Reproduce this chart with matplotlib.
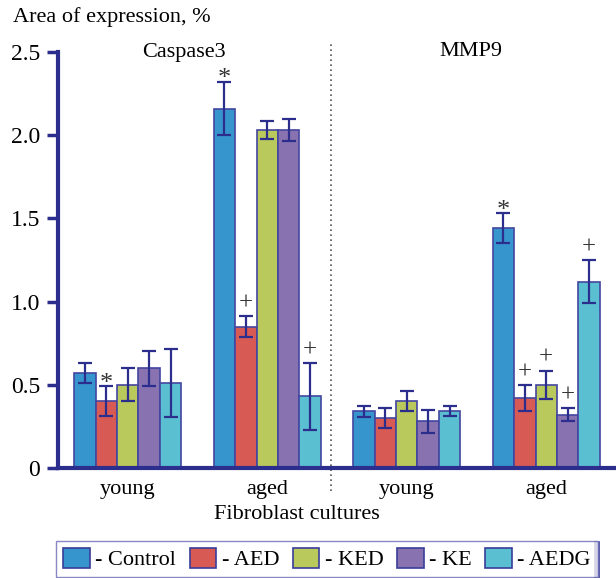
import matplotlib.pyplot as plt
import numpy as np
from matplotlib.patches import Patch
from matplotlib.lines import Line2D

plt.rcParams['font.family'] = ['Liberation Serif', 'DejaVu Serif']

# groups along the x axis: Caspase3 young/aged, MMP9 young/aged
groups = ["young", "aged", "young", "aged"]
series = ["Control", "AED", "KED", "KE", "AEDG"]
colors = ['#3795CD', '#D85A55', '#BAC95B', '#8873B0', '#5ABFD1']

# mean values per series (one value per group)
control = [0.57, 2.16, 0.34, 1.44]
aed = [0.40, 0.85, 0.30, 0.42]
ked = [0.50, 2.03, 0.40, 0.50]
ke = [0.60, 2.03, 0.28, 0.32]
aedg = [0.51, 0.43, 0.34, 1.12]

# error (half length)
control_err = [0.06, 0.16, 0.035, 0.09]
aed_err = [0.09, 0.065, 0.06, 0.08]
ked_err = [0.10, 0.055, 0.06, 0.085]
ke_err = [0.105, 0.065, 0.07, 0.04]
aedg_err = [0.205, 0.20, 0.03, 0.13]

# significance marks
control_mark = ["", "*", "", "*"]
aed_mark = ["*", "+", "", "+"]
ked_mark = ["", "", "", "+"]
ke_mark = ["", "", "", "+"]
aedg_mark = ["", "+", "", "+"]

values = [control, aed, ked, ke, aedg]
errors = [control_err, aed_err, ked_err, ke_err, aedg_err]
marks = [control_mark, aed_mark, ked_mark, ke_mark, aedg_mark]

navy = '#2B2E8C'

fig = plt.figure(figsize=(6.16, 5.78), dpi=100)
ax = fig.add_axes([58/616, 110/578, 558/616, 416/578])

x = np.arange(len(groups))
w = 0.154
for i in range(len(series)):
    pos = x + (i - 2) * w
    ax.bar(pos, values[i], w, color=colors[i], edgecolor='#4346a0', linewidth=1.2)
    ax.errorbar(pos, values[i], yerr=errors[i], fmt='none', ecolor=navy,
                elinewidth=1.6, capsize=4.8, capthick=1.6)
    for p, v, e, m in zip(pos, values[i], errors[i], marks[i]):
        if m == "*":
            ax.text(p, v + e - 0.05, m, ha='center', va='bottom', fontsize=19, color='#333333')
        elif m:
            ax.text(p, v + e + 0.01, m, ha='center', va='bottom', fontsize=18, color='#333333')

ax.set_xlim(-0.5, 3.5)
ax.set_ylim(0, 2.5)
ax.set_yticks(np.arange(0, 2.6, 0.5))
ax.set_yticklabels(["0", "0.5", "1.0", "1.5", "2.0", "2.5"])
ax.set_xticks([])
ax.tick_params(axis='y', direction='out', length=8, width=2.5, color=navy,
               labelsize=17, pad=5)
for s in ['top', 'right']:
    ax.spines[s].set_visible(False)
for s in ['left', 'bottom']:
    ax.spines[s].set_color(navy)
    ax.spines[s].set_linewidth(3)

# dotted separator between the two markers
ax.plot([1.46, 1.46], [-0.14, 2.56], ls=(0, (1, 2)), color='#555555', lw=1.2, clip_on=False)

for xi, g in zip(x, groups):
    ax.text(xi, -0.13, g, ha='center', va='center', fontsize=16)
ax.text(1.21, -0.28, "Fibroblast cultures", ha='center', va='center', fontsize=16)
ax.text(0.40, 2.5, "Caspase3", ha='center', va='center', fontsize=16)
ax.text(2.46, 2.5, "MMP9", ha='center', va='center', fontsize=16)

fig.text(13/616, 1 - 17/578, "Area of expression, %", ha='left', va='center', fontsize=16)

handles = [Patch(facecolor=c, edgecolor='#3a3d99', linewidth=1.2) for c in colors]
leg = fig.legend(handles, ["- " + s for s in series], loc='center',
                 bbox_to_anchor=(327/616, 1 - 559/578), ncol=5, fontsize=16,
                 frameon=True, fancybox=False, edgecolor='#6a6ab8',
                 handlelength=1.2, handleheight=1.0, handletextpad=0.25,
                 columnspacing=0.6, borderpad=0.3, borderaxespad=0)
leg.get_frame().set_linewidth(1.0)

# dark shadow on the right edge of the legend box
fig.canvas.draw()
bb = leg.get_window_extent().transformed(fig.transFigure.inverted())
fig.add_artist(Line2D([bb.x1 - 1/616, bb.x1 - 1/616], [bb.y0 - 2/578, bb.y1 - 3/578],
                      color=navy, lw=4, transform=fig.transFigure))

fig.savefig("out.png", dpi=100)
